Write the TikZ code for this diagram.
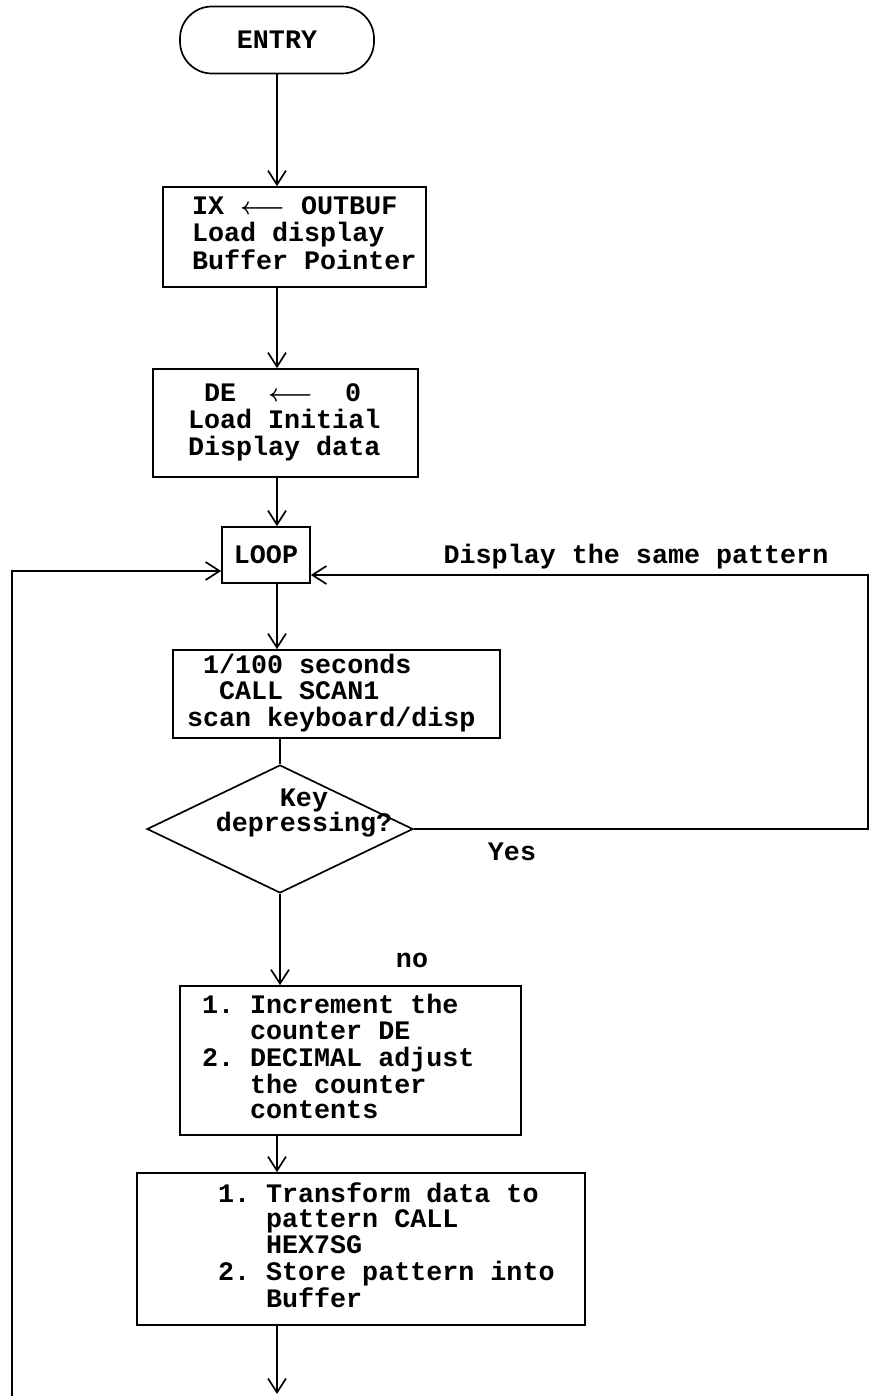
\documentclass[tikz,border=0pt]{standalone}
\usepackage{fontspec}
\setmonofont{Liberation Mono}
\usepackage{tikz}
\usetikzlibrary{arrows.meta,shapes.geometric}

\newcommand{\fsp}{\phantom{0}}
\newcommand{\flowtext}[3]{\makebox[#1][l]{\hspace{#2}\begin{tabular}{@{}l@{}}#3\end{tabular}}}
\newcommand{\loadarrow}{{\boldmath$\longleftarrow$}}

\tikzset{
  procbox/.style={draw, inner xsep=0pt, inner ysep=0pt},
  decision/.style={draw, diamond, inner sep=0pt}
}

\begin{document}
\begin{tikzpicture}[line width=1.2pt, >={Straight Barb[length=3.5mm,width=4.5mm]},
  font=\ttfamily\bfseries\fontsize{19}{18.2}\selectfont]
  \useasboundingbox (0,0) rectangle (21.775,-34.9);
  % main column
  \node[draw, rounded corners=0.8cm, minimum width=4.85cm, minimum height=1.675cm] (entry) at (6.925,-1.0) {ENTRY};
  \node[procbox, minimum height=2.5cm] (ixset) at (7.3625,-5.925)
    {\flowtext{6.575cm}{0.725cm}{IX \loadarrow{} OUTBUF\\Load display\\Buffer Pointer}};
  \node[procbox, minimum height=2.7cm] (deset) at (7.1375,-10.575)
    {\flowtext{6.625cm}{0.875cm}{\fsp DE\fsp\fsp\loadarrow\fsp\fsp 0\\Load Initial\\Display data}};
  \node[draw, minimum width=2.2cm, minimum height=1.4cm] (loop) at (6.65,-13.875) {LOOP};
  \node[procbox, minimum height=2.2cm] (scan) at (8.4125,-17.35)
    {\flowtext{8.175cm}{0.35cm}{\fsp 1/100 seconds\\\fsp\fsp CALL SCAN1\\scan keyboard/disp}};
  \node[decision, minimum width=6.65cm, minimum height=3.2cm,
    label={[align=center, xshift=0.6cm, yshift=0.4cm]center:Key\\depressing?}] (keydown) at (7.0,-20.725) {};
  \node[procbox, minimum height=3.725cm] (incr) at (8.7625,-26.5125)
    {\flowtext{8.525cm}{0.55cm}{1. Increment the\\\fsp\fsp\fsp counter DE\\2. DECIMAL adjust\\\fsp\fsp\fsp the counter\\\fsp\fsp\fsp contents}};
  \node[procbox, minimum height=3.8cm] (pattern) at (9.025,-31.225)
    {\flowtext{11.2cm}{2.025cm}{1. Transform data to\\\fsp\fsp\fsp pattern CALL\\\fsp\fsp\fsp HEX7SG\\2. Store pattern into\\\fsp\fsp\fsp Buffer}};
  \coordinate (exit) at (6.925,-34.85);
  \coordinate (rgt) at (21.7,-20.725);
  \coordinate (back) at (0.3,-34.9);
  % labels
  \node (same) at (15.9,-13.925) {Display the same pattern};
  \node (yes) at (12.8,-21.3) {Yes};
  \node (no) at (10.3,-24.0) {no};
  % connectors
  \draw[->] (entry.south) -- (ixset.north -| entry);
  \draw[->] (ixset.south -| entry) -- (deset.north -| entry);
  \draw[->] (deset.south -| entry) -- (loop.north -| entry);
  \draw[->] (loop.south -| entry) -- (scan.north -| entry);
  \draw (scan.south -| keydown) -- (keydown.north);
  \draw[->] (keydown.south) -- (incr.north -| keydown);
  \draw[->] (incr.south -| entry) -- (pattern.north -| entry);
  \draw[->] (pattern.south -| entry) -- (exit);
  \draw[->] (keydown.east) -- (rgt) |- ([yshift=-0.5cm]loop.east);
  \draw[->] (back) |- ([yshift=-0.4cm]loop.west);
\end{tikzpicture}
\end{document}
